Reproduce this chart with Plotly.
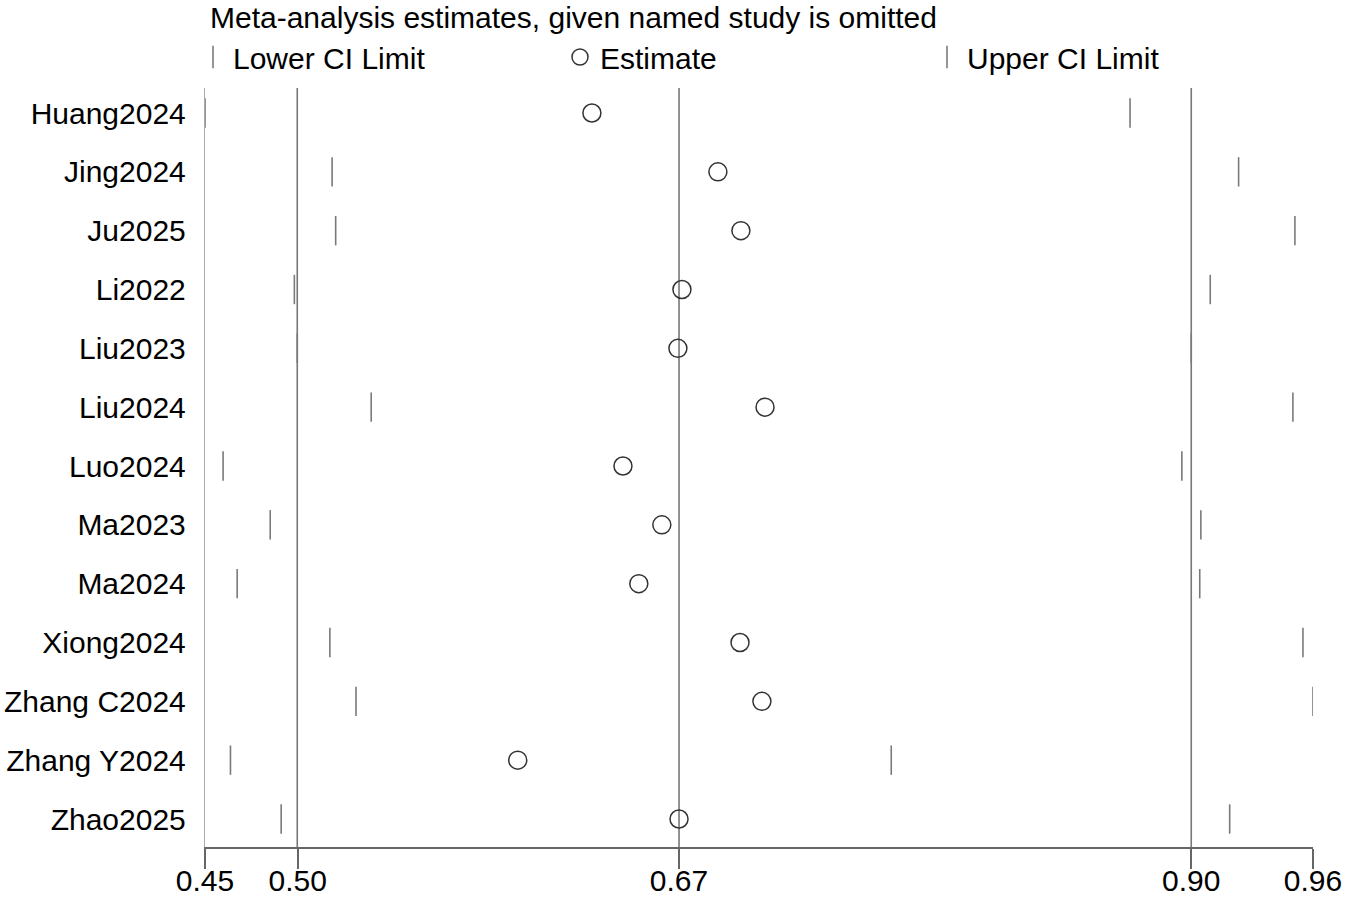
import plotly.graph_objects as go

studies = ["Huang2024", "Jing2024", "Ju2025", "Li2022", "Liu2023", "Liu2024", "Luo2024",
           "Ma2023", "Ma2024", "Xiong2024", "Zhang C2024", "Zhang Y2024", "Zhao2025"]
estimate = [0.6317, 0.6881, 0.6984, 0.6720, 0.6702, 0.7092, 0.6456,
            0.6630, 0.6527, 0.6980, 0.7078, 0.5985, 0.6707]
lower_ci = [0.4585, 0.5154, 0.5170, 0.4985, 0.4998, 0.5329, 0.4666,
            0.4877, 0.4729, 0.5144, 0.5261, 0.4699, 0.4926]
upper_ci = [0.8726, 0.9212, 0.9464, 0.9085, 0.9000, 0.9455, 0.8958,
            0.9043, 0.9038, 0.9500, 0.9545, 0.7657, 0.9172]

# overall (all studies) estimate and CI -> reference lines
overall_est = 0.6707
overall_lo = 0.4998
overall_hi = 0.9000

tick_vals = [0.4585, 0.50, 0.6707, 0.90, 0.9545]
tick_text = ["0.45", "0.50", "0.67", "0.90", "0.96"]

FONT = "Liberation Sans, Arial, sans-serif"
FS = 30
W, H = 1355, 898
idx = list(range(len(studies)))

fig = go.Figure()
fig.add_trace(go.Scatter(
    x=lower_ci, y=idx, mode="markers", name="Lower CI Limit",
    marker=dict(symbol="line-ns", size=21, line=dict(color="#7a7a7a", width=1.6)),
))
fig.add_trace(go.Scatter(
    x=estimate, y=idx, mode="markers", name="Estimate",
    marker=dict(symbol="circle-open", size=18, color="#333333", line=dict(color="#333333", width=1.5)),
))
fig.add_trace(go.Scatter(
    x=upper_ci, y=idx, mode="markers", name="Upper CI Limit",
    marker=dict(symbol="line-ns", size=21, line=dict(color="#7a7a7a", width=1.6)),
))

for v in [overall_lo, overall_est, overall_hi]:
    fig.add_shape(type="line", xref="x", yref="paper", x0=v, x1=v, y0=0, y1=1,
                  line=dict(color="#777777", width=1.6), layer="below")

fig.update_layout(
    width=W, height=H,
    margin=dict(l=205, r=42, t=88, b=51),
    paper_bgcolor="white", plot_bgcolor="white",
    font=dict(family=FONT, size=FS, color="black"),
    title=dict(text="Meta-analysis estimates, given named study is omitted",
               x=210/W, xref="container", xanchor="left",
               y=1-17/H, yref="container", yanchor="middle",
               font=dict(family=FONT, size=FS, color="black")),
    showlegend=True,
    legend=dict(orientation="h", xref="container", yref="container",
                x=193/W, xanchor="left", y=1-57/H, yanchor="middle",
                entrywidth=322, entrywidthmode="pixels",
                font=dict(family=FONT, size=FS, color="black"),
                bgcolor="rgba(0,0,0,0)", tracegroupgap=0),
    xaxis=dict(range=[lower_ci[0], max(upper_ci)], tickvals=tick_vals, ticktext=tick_text,
               showgrid=False, zeroline=False, showline=True, linecolor="#666666", linewidth=1.6,
               ticks="outside", ticklen=20, tickwidth=1.6, tickcolor="#666666",
               ticklabelstandoff=-14, automargin=False,
               tickfont=dict(family=FONT, size=FS, color="black")),
    yaxis=dict(range=[12.476, -0.425], tickvals=idx, ticktext=studies,
               showgrid=False, zeroline=False, showline=True, linecolor="#aaaaaa", linewidth=1.4,
               ticks="", ticklabelstandoff=12, automargin=False,
               tickfont=dict(family=FONT, size=FS, color="black")),
)

fig.write_html("out.html", config={"displayModeBar": False},
               post_script="document.body.style.margin='0';")
